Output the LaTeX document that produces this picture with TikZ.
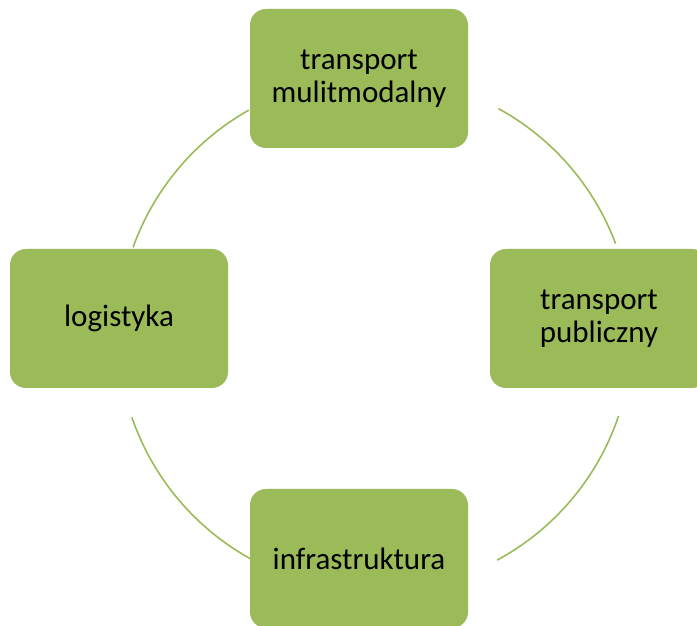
\documentclass[tikz,border=0pt]{standalone}
\usepackage{fontspec}
\setmainfont{Carlito}
\usetikzlibrary{positioning}
\definecolor{cyclegreen}{RGB}{155,187,89}
\tikzset{
    cyclebox/.style={rectangle, rounded corners=16pt, fill=cyclegreen, minimum width=218pt, minimum height=139pt, align=center, inner sep=0pt, font=\fontsize{31}{33}\selectfont, text=black},
    cyclearc/.style={draw=cyclegreen, line width=1.6pt}
}

\begin{document}
\begin{tikzpicture}[x=1pt, y=1pt]
    \useasboundingbox (0,0) rectangle (697,626);

    % Centre of the boxes and of the ring
    \coordinate (hub) at (359,307.5);
    \coordinate (ring) at (375,292);

    % Ring arcs between the boxes
    \foreach \a/\b in {20.6/61.3, 119.4/160.3, 198.9/241.3, 298.4/341.4}
        \draw[cyclearc] ([shift={(\a:257)}]ring) arc[start angle=\a, end angle=\b, radius=257];

    % Boxes
    \node[cyclebox] (multi) at ([shift={(90:240)}]hub) {transport\\mulitmodalny};
    \node[cyclebox] (public) at ([shift={(0:240)}]hub) {transport\\publiczny};
    \node[cyclebox] (infra) at ([shift={(270:240)}]hub) {infrastruktura};
    \node[cyclebox] (logist) at ([shift={(180:240)}]hub) {logistyka};
\end{tikzpicture}
\end{document}
